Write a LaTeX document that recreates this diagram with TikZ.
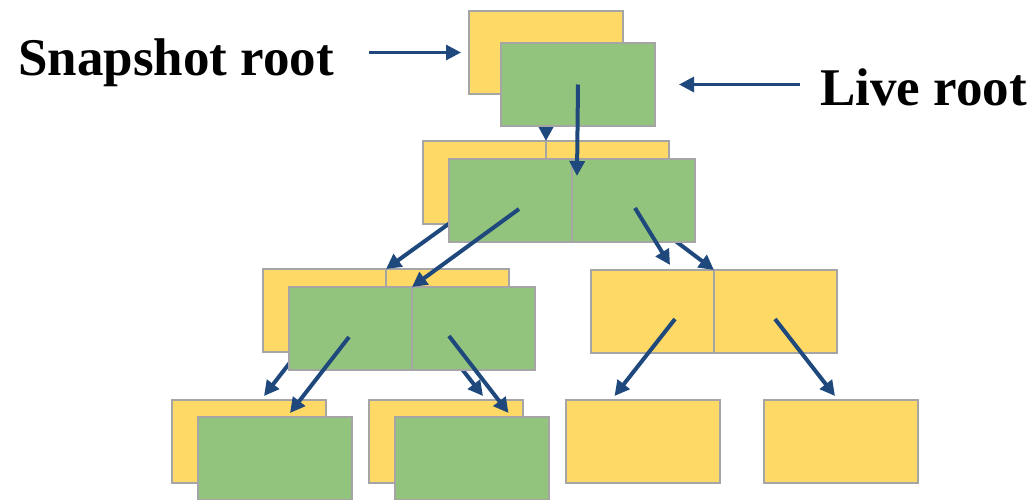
\documentclass[tikz,border=0pt]{standalone}
\usepackage{fontspec}
\setmainfont{Liberation Serif}
\usetikzlibrary{arrows.meta,calc}

\definecolor{galben}{RGB}{255,217,102}
\definecolor{verde}{RGB}{147,196,125}
\definecolor{gri}{RGB}{165,165,165}
\definecolor{albastru}{RGB}{31,73,125}

\tikzset{
  celula/.style={rectangle,draw=gri,line width=2pt,anchor=north west,inner sep=0pt,outer sep=0pt,minimum width=123pt,minimum height=83pt},
  mare/.style={celula,minimum width=154pt},
  vechi/.style={fill=galben},
  nou/.style={fill=verde},
  sageata/.style={draw=albastru,line width=4pt,-{Triangle[length=15pt,width=15pt]}},
  eticheta/.style={font=\bfseries\fontsize{53}{60}\selectfont,inner sep=0pt,anchor=base west}
}

\begin{document}
\begin{tikzpicture}[x=1pt,y=-1pt]
  \useasboundingbox (0,0) rectangle (1033,499);

  % arborele vechi
  \node[mare,vechi] (sr) at (469,11) {};
  \node[celula,vechi] (s2a) at (423,141) {};
  \node[celula,vechi] (s2b) at (546,141) {};
  \node[celula,vechi] (s3a) at (263,269) {};
  \node[celula,vechi] (s3b) at (386,269) {};
  \node[celula,vechi] (t3a) at (591,270) {};
  \node[celula,vechi] (t3b) at (714,270) {};
  \node[mare,vechi] (u4a) at (172,400) {};
  \node[mare,vechi] (u4b) at (369,400) {};
  \node[mare,vechi] (u4c) at (566,400) {};
  \node[mare,vechi] (u4d) at (764,400) {};

  \draw[sageata] (sr.center) -- (s2a.north east);
  \draw[sageata] ($(s2a.north west)+(70,51)$) -- (s3a.north east);
  \draw[sageata] ($(s2b.north west)+(63,50)$) -- (t3a.north east);
  \draw[sageata] ($(s3a.north west)+(60,51)$) -- ($(u4a.north)+(15,-4)$);
  \draw[sageata] ($(s3b.north west)+(37,50)$) -- ($(u4b.north)+(37,-4)$);
  \draw[sageata] ($(t3a.north west)+(84,49)$) -- ($(u4c.north)+(-28.5,-4)$);
  \draw[sageata] ($(t3b.north west)+(61,49)$) -- ($(u4d.north)+(-6,-4)$);

  % arborele nou
  \node[mare,nou] (lr) at (501,43) {};
  \node[celula,nou] (l2a) at (449,159) {};
  \node[celula,nou] (l2b) at (572,159) {};
  \node[celula,nou] (l3a) at (289,287) {};
  \node[celula,nou] (l3b) at (412,287) {};
  \node[mare,nou] (v4a) at (198,417) {};
  \node[mare,nou] (v4b) at (395,417) {};

  \draw[sageata] (lr.center) -- ($(l2b.north west)+(5,17)$);
  \draw[sageata] ($(l2a.north west)+(70,50)$) -- (l3a.north east);
  \draw[sageata] ($(l2b.north west)+(63,49)$) -- ($(t3a.north east)+(-44,-5)$);
  \draw[sageata] ($(l3a.north west)+(60,50)$) -- ($(v4a.north)+(15,-4)$);
  \draw[sageata] ($(l3b.north west)+(37,49)$) -- ($(v4b.north)+(36.5,-4)$);

  % etichete
  \node[eticheta] (lsnap) at (18,75) {Snapshot root};
  \node[eticheta] (llive) at (820,105) {Live root};
  \draw[sageata,line width=3pt] ($(lsnap.east |- sr.west)+(35,0)$) -- ($(sr.west)+(-8,0)$);
  \draw[sageata,line width=3pt] ($(llive.west |- lr.east)+(-20,0)$) -- ($(lr.east)+(24,0)$);
\end{tikzpicture}
\end{document}
